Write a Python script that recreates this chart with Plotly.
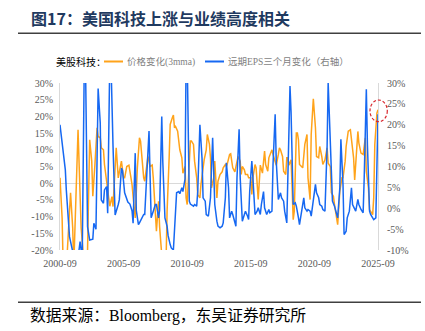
import plotly.graph_objects as go

# ---- data (percent) ----
price_dates = ["2000-09","2000-11","2000-12","2001-03","2001-06","2001-07","2001-09","2001-10",
"2002-02","2002-03","2002-05","2002-08","2002-10","2002-11","2003-01","2003-03","2003-04","2003-06",
"2003-08","2003-09","2003-11","2003-12","2004-02","2004-03","2004-05","2004-07","2004-08","2004-10",
"2004-11","2005-02","2005-03","2005-04","2005-06","2005-07","2005-09","2005-10","2005-12","2006-02",
"2006-04","2006-05","2006-07","2006-08","2006-10","2006-12","2007-01","2007-02","2007-04","2007-05",
"2007-08","2007-10","2007-12","2008-01","2008-03","2008-04","2008-05","2008-06","2008-07","2008-09",
"2008-11","2009-01","2009-02","2009-04","2009-05","2009-07","2009-08","2009-09","2009-10","2009-12",
"2010-01","2010-02","2010-04","2010-05","2010-07","2010-08","2010-09","2010-11","2010-12","2011-01",
"2011-03","2011-04","2011-06","2011-07","2011-09","2011-10","2011-12","2012-01","2012-03","2012-04",
"2012-06","2012-07","2012-08","2012-10","2012-11","2012-12","2013-01","2013-02","2013-04","2013-06",
"2013-07","2013-09","2013-10","2013-11","2014-01","2014-02","2014-03","2014-04","2014-06","2014-08",
"2014-09","2014-11","2014-12","2015-01","2015-03","2015-04","2015-06","2015-07","2015-09","2015-10",
"2015-11","2016-01","2016-02","2016-04","2016-05","2016-06","2016-08","2016-09","2016-10","2016-11",
"2017-01","2017-02","2017-04","2017-05","2017-06","2017-08","2017-09","2017-11","2017-12","2018-01",
"2018-03","2018-04","2018-06","2018-07","2018-08","2018-09","2018-11","2018-12","2019-01","2019-02",
"2019-03","2019-04","2019-05","2019-06","2019-07","2019-09","2019-10","2019-12","2020-02","2020-03",
"2020-05","2020-06","2020-08","2020-10","2020-11","2021-01","2021-02","2021-04","2021-05","2021-07",
"2021-09","2021-10","2021-12","2022-01","2022-03","2022-04","2022-06","2022-07","2022-09","2022-11",
"2022-12","2023-02","2023-03","2023-05","2023-07","2023-08","2023-10","2023-11","2023-12","2024-02",
"2024-03","2024-05","2024-07","2024-09","2024-10","2024-12","2025-01","2025-04","2025-05","2025-06",
"2025-08","2025-09"]
price_change = [1.6,-10.4,-25,-26,-8.4,-2.9,-13.4,-25,
16,6.6,-13.4,-25,-28,-20,13,6.6,-3.9,5.6,
16.6,14,13.6,10.6,10,5.6,0.6,-5.4,-6.9,-4,
-7,10.6,5.6,1.6,5,6.6,1.6,1.6,5,5.4,
1.6,-0.4,-7.4,-10.4,4.6,13.6,12.6,8.6,1.6,0.6,
8,5,5.4,1.6,-10.4,-14.4,-10,-5.4,-13,-22,
-30,-24,-8.4,7.6,17.6,19.6,20.4,16.6,17,15.6,
12,10,7.6,3,5,-4.4,-6.4,5.6,12.6,12.6,
11.6,6.6,1.6,-3.4,-4.4,-0.4,5.6,7,10,14.6,
11.6,7.6,-1.4,1.6,6.6,-1.4,-4.4,0.6,2.6,3.4,
4.6,5.6,5,6,8.6,8.8,7,4.6,3.4,6.6,
8,6.6,2.6,5,4,2.6,2.6,1.6,1.6,-3.4,
1.6,5.6,4.6,-4.9,2.6,5.4,3,5.6,9.6,5.6,
3.6,7.6,9.6,10,8.6,6.6,5.4,8.6,10.6,10,
8,3.6,2.6,7.6,7.6,5.4,7,-1.4,-10.9,-8.4,
6,15,15,13,5.6,5,4.6,11.6,14.6,1.6,
-4.9,14.6,25.3,16.6,8,7.6,11,8,5.6,7,
10.6,6,5,-2.9,-3.9,-6.4,-10.4,-12.4,-2.4,1.6,
1.6,6.6,11,15.6,16,12.6,7.6,1,6.6,15.5,
12,9,8.6,13.6,3.6,-1.4,-7.9,-9.4,-4.4,11.6,
21,22]

eps_dates = ["2000-09","2000-12","2001-02","2001-03","2001-05","2001-06","2001-08","2001-10",
"2001-12","2002-03","2002-04","2002-05","2002-06","2002-08","2002-09","2002-11","2003-01","2003-04",
"2003-05","2003-07","2003-08","2003-09","2003-11","2003-12","2004-02","2004-03","2004-05","2004-06",
"2004-08","2004-09","2004-11","2005-01","2005-04","2005-05","2005-07","2005-08","2005-10","2005-12",
"2006-01","2006-03","2006-05","2006-06","2006-08","2006-09","2006-11","2006-12","2007-02","2007-04",
"2007-05","2007-07","2007-09","2007-10","2007-11","2008-01","2008-03","2008-04","2008-06","2008-07",
"2008-09","2008-10","2008-12","2009-02","2009-03","2009-05","2009-06","2009-08","2009-09","2009-11",
"2010-01","2010-02","2010-04","2010-05","2010-07","2010-08","2010-09","2010-10","2010-11","2010-12",
"2011-03","2011-04","2011-06","2011-07","2011-09","2011-11","2011-12","2012-02","2012-03","2012-05",
"2012-07","2012-09","2012-10","2012-11","2013-01","2013-02","2013-04","2013-06","2013-07","2013-09",
"2013-10","2013-12","2014-01","2014-03","2014-04","2014-07","2014-08","2014-10","2014-11","2015-01",
"2015-03","2015-04","2015-06","2015-07","2015-08","2015-10","2015-11","2016-01","2016-03","2016-04",
"2016-06","2016-07","2016-09","2016-10","2016-12","2017-02","2017-03","2017-05","2017-06","2017-08",
"2017-09","2017-11","2018-01","2018-02","2018-04","2018-05","2018-07","2018-08","2018-10","2018-11",
"2019-01","2019-03","2019-04","2019-06","2019-07","2019-09","2019-11","2019-12","2020-02","2020-03",
"2020-05","2020-06","2020-08","2020-10","2020-11","2021-01","2021-02","2021-04","2021-05","2021-07",
"2021-09","2021-10","2021-11","2022-01","2022-02","2022-04","2022-05","2022-07","2022-09","2022-10",
"2022-12","2023-01","2023-03","2023-04","2023-06","2023-08","2023-09","2023-11","2023-12","2024-02",
"2024-03","2024-05","2024-07","2024-08","2024-09","2024-10","2024-11","2025-01","2025-02","2025-04",
"2025-05","2025-07","2025-08","2025-09"]
eps_change = [20,13.6,9.2,4.4,-2,-6.8,-9.2,-11.5,
-12,-10,-8,-11,-12,36,36,-4.4,-7.6,-7.4,
-3.6,-5,12,28.7,20.4,2,1.2,4.4,5.2,-1.2,
36,36,15,-1.6,0.9,2,9.6,9,3.7,2,
1.5,1,-0.6,-3.6,13.2,-0.5,-3.9,-3.5,-2.5,-1.5,
-1.5,10,18.5,8,-2.3,-0.7,0.9,0.9,-2.3,-0.5,
22,11,-2.3,-4.3,-6.5,-8.7,-9.5,-10,-4,3.7,
4,3.5,4.9,4,7,36,36,12,1.7,1,
0.5,0.9,0.5,4,20,12,2.5,1.7,-1.5,-1.9,
2.5,16.9,8,0.9,-3.1,-4.3,-4.7,-4.3,-3.5,2.5,
10.9,4.9,-2.3,-0.7,-1.5,-4.3,7.3,18.9,7.3,-3.1,
-1.5,-0.7,-1.9,-2.7,4,11.3,7.3,-1.5,-0.7,0.1,
-1.5,0.9,4,0.1,-1.5,-0.3,-1.1,-0.7,10.5,22.5,
11.3,2.1,3.7,2.5,1.7,-0.7,-3.5,8.9,29.3,23,
0.9,1.3,0.5,-2.3,-3.9,-0.7,2.5,0.1,-0.7,-0.3,
-0.7,-1.9,2.5,5.7,3.7,2.5,0.9,0.5,-0.3,-0.7,
15,30,23,4.9,1.7,0.5,-0.7,-2.3,4.9,16.5,
5.7,-6.3,-5.5,-2.3,-0.7,4.9,0.9,-0.3,-0.7,2.1,
0.9,-0.3,-1.1,7.3,23.5,28.5,15.3,-0.7,-1.5,-2.3,
-2.7,-2.3,7.3,22.5]

x_tick_dates = ["2000-09-01","2005-09-01","2010-09-01","2015-09-01","2020-09-01","2025-09-01"]
x_tick_labels = ["2000-09","2005-09","2010-09","2015-09","2020-09","2025-09"]
left_ticks = [-20,-15,-10,-5,0,5,10,15,20,25,30]
right_ticks = [-10,-5,0,5,10,15,20,25,30]

title_text = "图17：美国科技上涨与业绩高度相关"
legend_prefix = "美股科技："
name_price = "价格变化(3mma)"
name_eps = "远期EPS三个月变化（右轴）"
source_text = "数据来源：Bloomberg，东吴证券研究所"

ORANGE = "#FFA31A"
BLUE = "#1668F2"
SERIF = "Liberation Serif, Noto Sans CJK SC"
TICKFONT = dict(family="Liberation Serif", size=10, color="#595959")

fig = go.Figure()
fig.add_trace(go.Scatter(x=price_dates, y=price_change, mode="lines", name=name_price,
                         line=dict(color=ORANGE, width=1.5), yaxis="y"))
fig.add_trace(go.Scatter(x=eps_dates, y=eps_change, mode="lines", name=name_eps,
                         line=dict(color=BLUE, width=1.5), yaxis="y2"))

W, H = 425, 331
L, R, T, B = 60, 47, 83, 81
pw, ph = W - L - R, H - T - B

def px(x):
    return (x - L) / pw

def py(y):
    return (H - B - y) / ph

fig.update_layout(
    width=W, height=H,
    margin=dict(l=L, r=R, t=T, b=B, pad=0),
    paper_bgcolor="white", plot_bgcolor="white",
    showlegend=False,
    xaxis=dict(type="date", range=["2000-09-01", "2025-09-01"],
               tickvals=x_tick_dates, ticktext=x_tick_labels,
               showgrid=False, showline=False, zeroline=False,
               ticks="", tickfont=TICKFONT, ticklabelstandoff=6),
    yaxis=dict(range=[-20, 30], tickvals=left_ticks,
               ticktext=[f"{v}%" for v in left_ticks],
               showgrid=False, showline=True, linecolor="#D9D9D9", linewidth=1,
               zeroline=True, zerolinecolor="#D9D9D9", zerolinewidth=1,
               ticks="", tickfont=TICKFONT, ticklabelstandoff=4),
    yaxis2=dict(range=[-10, 30], tickvals=right_ticks,
                ticktext=[f"{v}%" for v in right_ticks],
                overlaying="y", side="right",
                showgrid=False, showline=True, linecolor="#D9D9D9", linewidth=1,
                zeroline=False, ticks="", tickfont=TICKFONT, ticklabelstandoff=6),
)

shapes = [
    dict(type="line", xref="paper", yref="paper", x0=px(18), x1=px(421), y0=py(33.3), y1=py(33.3),
         line=dict(color="#404040", width=1.5)),
    dict(type="line", xref="paper", yref="paper", x0=px(18), x1=px(421), y0=py(302.3), y1=py(302.3),
         line=dict(color="#404040", width=1.5)),
    dict(type="line", xref="paper", yref="paper", x0=px(104), x1=px(123), y0=py(61.5), y1=py(61.5),
         line=dict(color=ORANGE, width=2)),
    dict(type="line", xref="paper", yref="paper", x0=px(205), x1=px(224), y0=py(61.5), y1=py(61.5),
         line=dict(color=BLUE, width=2)),
    dict(type="circle", xref="paper", yref="paper", x0=px(370), x1=px(387.3), y0=py(121.7), y1=py(100),
         line=dict(color="#D9262C", width=1.2, dash="3px,2px")),
]

annotations = [
    dict(text=f"<b>{title_text}</b>", xref="paper", yref="paper", x=px(29), y=py(18.5),
         xanchor="left", yanchor="middle", showarrow=False,
         font=dict(family="Noto Sans CJK SC", size=16, color="#1F3A60")),
    dict(text=legend_prefix, xref="paper", yref="paper", x=px(54), y=py(62),
         xanchor="left", yanchor="middle", showarrow=False,
         font=dict(family=SERIF, size=10, color="#000000")),
    dict(text=name_price, xref="paper", yref="paper", x=px(125), y=py(61.5),
         xanchor="left", yanchor="middle", showarrow=False,
         font=dict(family=SERIF, size=9.5, color="#7F7F7F")),
    dict(text=name_eps, xref="paper", yref="paper", x=px(226), y=py(61.5),
         xanchor="left", yanchor="middle", showarrow=False,
         font=dict(family=SERIF, size=9.5, color="#7F7F7F")),
    dict(text=source_text, xref="paper", yref="paper", x=px(28), y=py(316),
         xanchor="left", yanchor="middle", showarrow=False,
         font=dict(family=SERIF, size=15.8, color="#000000")),
]

fig.update_layout(shapes=shapes, annotations=annotations)
fig.write_html("out.html")
